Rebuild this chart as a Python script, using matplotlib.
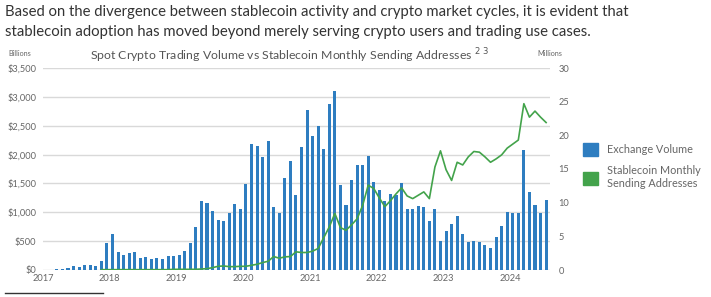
import numpy as np
import matplotlib.pyplot as plt
from matplotlib.patches import Patch
from matplotlib.lines import Line2D

plt.rcParams['font.family'] = ['Lato', 'DejaVu Sans']

# monthly exchange volume, $bn, Jan 2017 .. Jul 2024
volume = [5, 8, 12, 15, 42, 66, 50, 85, 78, 62, 160, 460,
          625, 310, 257, 300, 312, 208, 225, 195, 212, 195, 240, 244,
          255, 330, 465, 740, 1200, 1153, 1020, 866, 848, 980, 1148, 1061,
          1492, 2188, 2142, 1963, 2234, 1097, 982, 1588, 1894, 1305, 2131, 2772,
          2321, 2494, 2090, 2870, 3101, 1472, 1120, 1566, 1826, 1826, 1983, 1532,
          1381, 1191, 1324, 1295, 1514, 1064, 1052, 1104, 1087, 844, 1052, 510,
          675, 796, 941, 623, 485, 508, 479, 427, 381, 565, 756, 1010,
          987, 987, 2077, 1350, 1119, 987, 1212]

# stablecoin monthly sending addresses, millions, Nov 2017 .. Jul 2024
addr_start = 10
addresses = [0.05, 0.05,
             0.05, 0.05, 0.05, 0.05, 0.05, 0.05, 0.05, 0.05, 0.05, 0.05, 0.05, 0.1,
             0.1, 0.1, 0.1, 0.1, 0.15, 0.2, 0.35, 0.55, 0.6, 0.5, 0.5, 0.55,
             0.55, 0.7, 0.85, 1.1, 1.3, 2.0, 1.75, 1.95, 2.0, 2.7, 2.6, 2.6,
             2.8, 3.2, 4.8, 6.4, 8.4, 6.3, 5.9, 6.7, 7.6, 9.6, 12.6, 12.1,
             10.7, 9.4, 10.3, 11.3, 12.2, 11.0, 10.6, 11.1, 11.6, 10.6, 15.3, 17.7,
             14.9, 13.3, 16.0, 15.6, 16.8, 17.6, 17.5, 16.8, 16.0, 16.5, 17.1, 18.1,
             18.7, 19.3, 24.7, 22.7, 23.6, 22.7, 21.9]

years = ['2017', '2018', '2019', '2020', '2021', '2022', '2023', '2024']
left_ticks = [0, 500, 1000, 1500, 2000, 2500, 3000, 3500]
right_ticks = [0, 5, 10, 15, 20, 25, 30]

blue = '#2e7dc0'
green = '#43a34b'
grey = '#666666'

W, H = 711, 297
fig = plt.figure(figsize=(W / 100, H / 100), dpi=100)
ax = fig.add_axes([43 / W, 1 - 270 / H, (550 - 43) / W, (270 - 68) / H])
ax2 = ax.twinx()

x_bar = np.arange(len(volume)) + 0.5
ax.bar(x_bar, volume, width=0.55, color=blue, zorder=3)
x_line = np.arange(addr_start, addr_start + len(addresses)) + 0.5
ax2.plot(x_line, addresses, color=green, lw=1.2, zorder=4)

ax.set_xlim(0, 91.2)
ax.set_ylim(0, 3500)
ax2.set_ylim(0, 30)
ax.set_yticks(left_ticks)
ax.set_yticklabels(['$' + format(v, ',') for v in left_ticks])
ax2.set_yticks(right_ticks)
ax.set_xticks(np.arange(len(years)) * 12)
ax.set_xticklabels(years)

ax.grid(axis='y', color='#d9d9d9', lw=1, zorder=0)
ax.set_axisbelow(True)
for a in (ax, ax2):
    for s in a.spines.values():
        s.set_visible(False)
    a.tick_params(length=0, labelsize=6.7, colors=grey)
ax.tick_params(axis='y', pad=5)
ax.tick_params(axis='x', pad=3)
ax2.tick_params(axis='y', pad=6)

fig.text(8 / W, 1 - 53 / H, 'Billions', fontsize=5.2, color=grey, va='center')
fig.text(537 / W, 1 - 53 / H, 'Millions', fontsize=5.2, color=grey, va='center')
fig.text(90 / W, 1 - 56 / H,
         'Spot Crypto Trading Volume vs Stablecoin Monthly Sending Addresses $^{2\\ 3}$',
         fontsize=8.8, color='#555555', va='center')

fig.text(5 / W, 1 - 12 / H,
         'Based on the divergence between stablecoin activity and crypto market cycles, it is evident that',
         fontsize=10.75, color='#333333', va='center')
fig.text(5 / W, 1 - 32 / H,
         'stablecoin adoption has moved beyond merely serving crypto users and trading use cases.',
         fontsize=10.75, color='#333333', va='center')

handles = [Patch(color=blue), Patch(color=green)]
fig.legend(handles, ['Exchange Volume', 'Stablecoin Monthly\nSending Addresses'],
           loc='upper left', bbox_to_anchor=(573 / W, 1 - 133 / H),
           frameon=False, fontsize=7.8, labelcolor=grey,
           handlelength=1.45, handleheight=1.45, handletextpad=0.8, labelspacing=0.9)

fig.add_artist(Line2D([5 / W, 103 / W], [1 - 293 / H, 1 - 293 / H],
                      color='#333333', lw=1))

fig.savefig('out.png', dpi=100)
